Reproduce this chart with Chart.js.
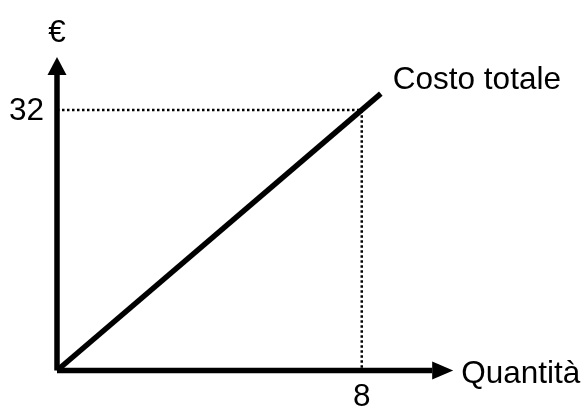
<!DOCTYPE html>
<html>
<head>
<meta charset="utf-8">
<script src="https://cdn.jsdelivr.net/npm/chart.js@4/dist/chart.umd.min.js"></script>
<style>
  html, body { margin: 0; padding: 0; background: #fff; }
  #wrap { width: 584px; height: 406px; }
</style>
</head>
<body>
<div id="wrap"><canvas id="cost-chart"></canvas></div>
<script>
// dati
const costLine = [{x: 0, y: 0}, {x: 8.5, y: 34}];   // Costo totale
const guidePoint = {x: 8, y: 32};                   // punto evidenziato
const xTickLabel = '8';
const yTickLabel = '32';
const xAxisLabel = 'Quantità';
const yAxisLabel = '€';
const seriesLabel = 'Costo totale';
const xMax = 10.4;   // punta freccia asse x
const yMax = 38.5;   // punta freccia asse y

const FONT = '31.5px "Liberation Sans", Arial, sans-serif';

// frecce e testi
const arrowsAndText = {
    id: 'arrowsAndText',
    afterDatasetsDraw(chart) {
        const c = chart.ctx;
        const xs = chart.scales.x, ys = chart.scales.y;
        const x0 = xs.getPixelForValue(0), y0 = ys.getPixelForValue(0);
        const xTip = xs.getPixelForValue(xMax), yTip = ys.getPixelForValue(yMax);
        c.save();
        c.fillStyle = '#000';
        // freccia y
        c.beginPath();
        c.moveTo(x0, yTip);
        c.lineTo(x0 - 9.5, yTip + 18);
        c.lineTo(x0 + 9.5, yTip + 18);
        c.closePath();
        c.fill();
        // freccia x
        c.beginPath();
        c.moveTo(xTip, y0);
        c.lineTo(xTip - 21, y0 - 9);
        c.lineTo(xTip - 21, y0 + 9);
        c.closePath();
        c.fill();

        c.font = FONT;
        c.textBaseline = 'alphabetic';
        c.textAlign = 'center';
        c.fillText(yAxisLabel, x0, yTip - 15);
        c.fillText(xTickLabel, xs.getPixelForValue(guidePoint.x), y0 + 35);
        c.textAlign = 'right';
        c.fillText(yTickLabel, x0 - 13, ys.getPixelForValue(guidePoint.y) + 10.5);
        c.textAlign = 'left';
        const end = costLine[costLine.length - 1];
        c.fillText(seriesLabel, xs.getPixelForValue(end.x) + 12, ys.getPixelForValue(end.y) - 5);
        c.fillText(xAxisLabel, xTip + 8, y0 + 12.5);
        c.restore();
    }
};

new Chart(document.getElementById('cost-chart'), {
    type: 'line',
    data: {
        datasets: [{
            label: 'asse y',
            data: [{x: 0, y: 0}, {x: 0, y: yMax - 2.2}],
            borderColor: '#000',
            borderWidth: 5.5,
            pointRadius: 0,
            clip: false
        }, {
            label: 'asse x',
            data: [{x: 0, y: 0}, {x: xMax - 0.55, y: 0}],
            borderColor: '#000',
            borderWidth: 5.5,
            pointRadius: 0,
            clip: false
        }, {
            label: 'guida',
            data: [{x: 0, y: guidePoint.y}, guidePoint, {x: guidePoint.x, y: 0}],
            borderColor: '#000',
            borderWidth: 2.5,
            borderDash: [2.5, 2.5],
            pointRadius: 0,
            clip: false
        }, {
            label: seriesLabel,
            data: costLine,
            borderColor: '#000',
            borderWidth: 5.5,
            pointRadius: 0,
            clip: false
        }]
    },
    options: {
        responsive: true,
        maintainAspectRatio: false,
        animation: false,
        layout: {
            padding: {left: 57, right: 584 - 453.2, top: 57, bottom: 406 - 370.5}
        },
        scales: {
            x: {type: 'linear', min: 0, max: xMax, display: false},
            y: {type: 'linear', min: 0, max: yMax, display: false}
        },
        plugins: {
            legend: {display: false},
            tooltip: {enabled: false}
        }
    },
    plugins: [arrowsAndText]
});
</script>
</body>
</html>
